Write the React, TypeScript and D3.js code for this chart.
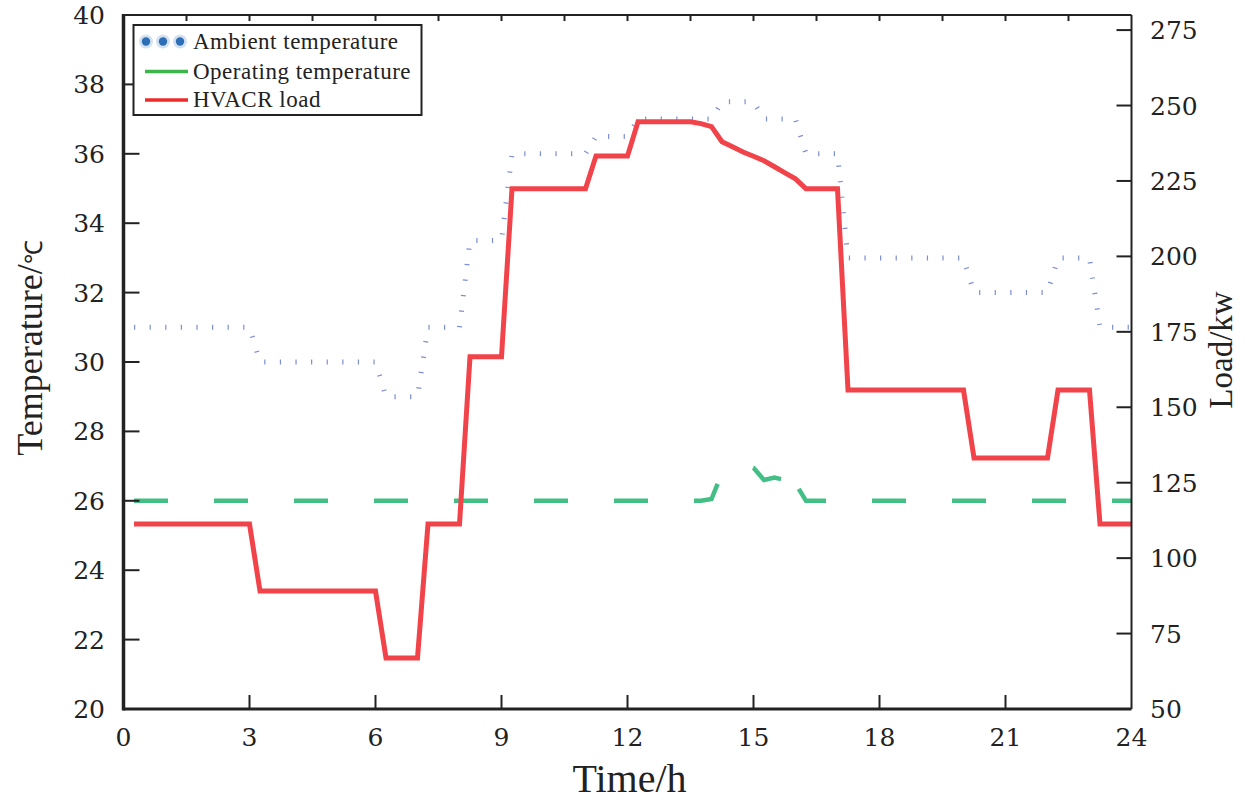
import React, { useRef, useEffect } from "react";
import * as d3 from "d3";

// ambient temperature (dotted), hours / degrees
const ambientTime = [0.25, 3, 3.25, 6, 6.25, 7, 7.25, 8, 8.25, 9, 9.25, 11, 11.25, 12, 12.25, 14, 14.25, 15, 15.25, 16, 16.25, 17, 17.25, 20, 20.25, 22, 22.25, 23, 23.25, 24];
const ambientTemp = [31, 31, 30, 30, 29, 29, 31, 31, 33.5, 33.5, 36, 36, 36.5, 36.5, 37, 37, 37.5, 37.5, 37, 37, 36, 36, 33, 33, 32, 32, 33, 33, 31, 31];

// operating temperature (dashed); split in two runs so the dash phase after the bump matches
const operatingTime = [0.25, 13.75, 14, 14.25, 14.5, 14.75, 15, 15.25, 15.5, 15.75, 16];
const operatingTemp = [26, 26, 26.05, 26.8, 26.98, 27.08, 26.95, 26.6, 26.67, 26.6, 26.5];
const operatingTime2 = [16, 16.25, 24];
const operatingTemp2 = [26.5, 26, 26];

// HVACR load, kW (right axis)
const loadTime = [0.25, 3, 3.25, 6, 6.25, 7, 7.25, 8, 8.25, 9, 9.25, 11, 11.25, 12, 12.25, 13.5, 13.75, 14, 14.25, 14.5, 14.75, 15, 15.25, 15.5, 15.75, 16, 16.25, 17, 17.25, 20, 20.25, 22, 22.25, 23, 23.25, 24];
const loadKw = [111.3, 111.3, 89.1, 89.1, 66.9, 66.9, 111.3, 111.3, 166.7, 166.7, 222.4, 222.4, 233.3, 233.3, 244.6, 244.6, 244, 243, 238, 236.3, 234.6, 233.2, 231.7, 229.7, 227.7, 225.7, 222.4, 222.4, 155.7, 155.7, 133.2, 133.2, 155.7, 155.7, 111.3, 111.3];

const xTicks = [0, 3, 6, 9, 12, 15, 18, 21, 24];
const xTopTicks = [1.5, 3, 4.5, 6, 7.5, 9, 10.5, 12, 13.5, 15, 16.5, 18, 19.5, 21, 22.5];
const tempTicks = [20, 22, 24, 26, 28, 30, 32, 34, 36, 38, 40];
const loadTicks = [50, 75, 100, 125, 150, 175, 200, 225, 250, 275];

const legendLabels = ["Ambient temperature", "Operating temperature", "HVACR load"];

const CHART = {
  width: 1250,
  height: 800,
  left: 123.5,
  right: 1131.5,
  top: 15,
  bottom: 709,
  tickFont: "'DejaVu Serif', serif",
  labelFont: "'Liberation Serif', 'Times New Roman', serif",
  ambientColor: "#7d8ed2",
  operatingColor: "#43bf86",
  loadColor: "#f1434a",
};

export default function App() {
  const ref = useRef<SVGSVGElement>(null);

  useEffect(() => {
    const svg = d3.select(ref.current);
    svg.selectAll("*").remove();
    const { left, right, top, bottom } = CHART;

    const x = d3.scaleLinear().domain([0, 24]).range([left, right]);
    const yT = d3.scaleLinear().domain([20, 40]).range([bottom, top]);
    const yL = d3.scaleLinear().domain([50, 280]).range([bottom, top]);

    svg.append("rect").attr("width", CHART.width).attr("height", CHART.height).attr("fill", "#fff");

    const lineT = (ts: number[], vs: number[]) =>
      d3.line<number>().x((i) => x(ts[i])).y((i) => yT(vs[i]))(d3.range(ts.length));
    const lineL = (ts: number[], vs: number[]) =>
      d3.line<number>().x((i) => x(ts[i])).y((i) => yL(vs[i]))(d3.range(ts.length));

    // ambient dotted
    svg.append("path")
      .attr("d", lineT(ambientTime, ambientTemp))
      .attr("fill", "none")
      .attr("stroke", CHART.ambientColor)
      .attr("stroke-width", 5)
      .attr("stroke-dasharray", "1.2 14.4")
      .attr("stroke-linecap", "butt");

    // operating dashed
    svg.append("path")
      .attr("d", lineT(operatingTime, operatingTemp))
      .attr("fill", "none")
      .attr("stroke", CHART.operatingColor)
      .attr("stroke-width", 4.5)
      .attr("stroke-dasharray", "34 46");
    svg.append("path")
      .attr("d", lineT(operatingTime2, operatingTemp2))
      .attr("fill", "none")
      .attr("stroke", CHART.operatingColor)
      .attr("stroke-width", 4.5)
      .attr("stroke-dasharray", "34 46")
      .attr("stroke-dashoffset", 73.7);

    // load
    svg.append("path")
      .attr("d", lineL(loadTime, loadKw))
      .attr("fill", "none")
      .attr("stroke", CHART.loadColor)
      .attr("stroke-width", 5)
      .attr("stroke-linejoin", "miter");

    // frame
    const frame = svg.append("g").attr("stroke", "#222").attr("fill", "none");
    frame.append("line").attr("x1", left).attr("x2", left).attr("y1", top - 1).attr("y2", bottom + 1.5).attr("stroke-width", 3.5);
    frame.append("line").attr("x1", left).attr("x2", right).attr("y1", bottom).attr("y2", bottom).attr("stroke-width", 3);
    frame.append("line").attr("x1", right).attr("x2", right).attr("y1", top).attr("y2", bottom).attr("stroke-width", 2);
    frame.append("line").attr("x1", left).attr("x2", right).attr("y1", top).attr("y2", top).attr("stroke-width", 2);

    // ticks
    const ticks = svg.append("g").attr("stroke", "#222").attr("stroke-width", 2);
    xTicks.slice(1, -1).forEach((t) => {
      ticks.append("line").attr("x1", x(t)).attr("x2", x(t)).attr("y1", bottom).attr("y2", bottom - 14);
    });
    xTopTicks.forEach((t) => {
      ticks.append("line").attr("x1", x(t)).attr("x2", x(t)).attr("y1", top).attr("y2", top + 6);
    });
    tempTicks.slice(1, -1).forEach((t) => {
      ticks.append("line").attr("x1", left).attr("x2", left + 16).attr("y1", yT(t)).attr("y2", yT(t));
    });
    loadTicks.slice(1).forEach((t) => {
      ticks.append("line").attr("x1", right).attr("x2", right - 15).attr("y1", yL(t)).attr("y2", yL(t));
    });

    // tick labels
    const lab = svg.append("g").attr("font-family", CHART.tickFont).attr("font-size", 25).attr("fill", "#222");
    xTicks.forEach((t) => {
      lab.append("text").attr("x", x(t)).attr("y", bottom + 37).attr("text-anchor", "middle").text(t);
    });
    tempTicks.forEach((t) => {
      lab.append("text").attr("x", 105).attr("y", yT(t) + 9).attr("text-anchor", "end").text(t);
    });
    loadTicks.forEach((t) => {
      lab.append("text").attr("x", 1150).attr("y", yL(t) + 9).attr("text-anchor", "start").text(t);
    });

    // axis titles
    svg.append("text")
      .attr("x", (left + right) / 2 + 2)
      .attr("y", 792)
      .attr("text-anchor", "middle")
      .attr("font-family", CHART.labelFont)
      .attr("font-size", 40)
      .attr("fill", "#222")
      .text("Time/h");

    const yTitle = svg.append("text")
      .attr("transform", "translate(42,348) rotate(-90)")
      .attr("text-anchor", "middle")
      .attr("font-family", CHART.labelFont)
      .attr("font-size", 36)
      .attr("fill", "#222");
    yTitle.append("tspan").text("Temperature/");
    yTitle.append("tspan").attr("font-size", 24).text("℃");

    svg.append("text")
      .attr("transform", "translate(1232,350) rotate(-90)")
      .attr("text-anchor", "middle")
      .attr("font-family", CHART.labelFont)
      .attr("font-size", 33)
      .attr("fill", "#222")
      .text("Load/kw");

    // legend
    const leg = svg.append("g");
    leg.append("rect")
      .attr("x", 133.5).attr("y", 25).attr("width", 288).attr("height", 90)
      .attr("fill", "#fff").attr("stroke", "#222").attr("stroke-width", 2);
    const rowY = [41.5, 71.5, 100];
    [146, 163, 180].forEach((cx) => {
      leg.append("circle").attr("cx", cx).attr("cy", rowY[0]).attr("r", 7).attr("fill", "#c9d9ee").attr("opacity", 0.8);
      leg.append("circle").attr("cx", cx).attr("cy", rowY[0]).attr("r", 4.2).attr("fill", "#2d6fb6");
    });
    leg.append("line").attr("x1", 145).attr("x2", 188).attr("y1", rowY[1]).attr("y2", rowY[1])
      .attr("stroke", "#3db54a").attr("stroke-width", 3.5);
    leg.append("line").attr("x1", 145).attr("x2", 188).attr("y1", rowY[2]).attr("y2", rowY[2])
      .attr("stroke", "#ee2b2b").attr("stroke-width", 3.5);
    legendLabels.forEach((l, i) => {
      leg.append("text")
        .attr("x", 193).attr("y", rowY[i] + 7)
        .attr("font-family", CHART.labelFont)
        .attr("font-size", 23)
        .attr("letter-spacing", 0.5)
        .attr("fill", "#222")
        .text(l);
    });
  }, []);

  return (
    <svg
      ref={ref}
      width={CHART.width}
      height={CHART.height}
      style={{ position: "absolute", left: 0, top: 0 }}
    />
  );
}
